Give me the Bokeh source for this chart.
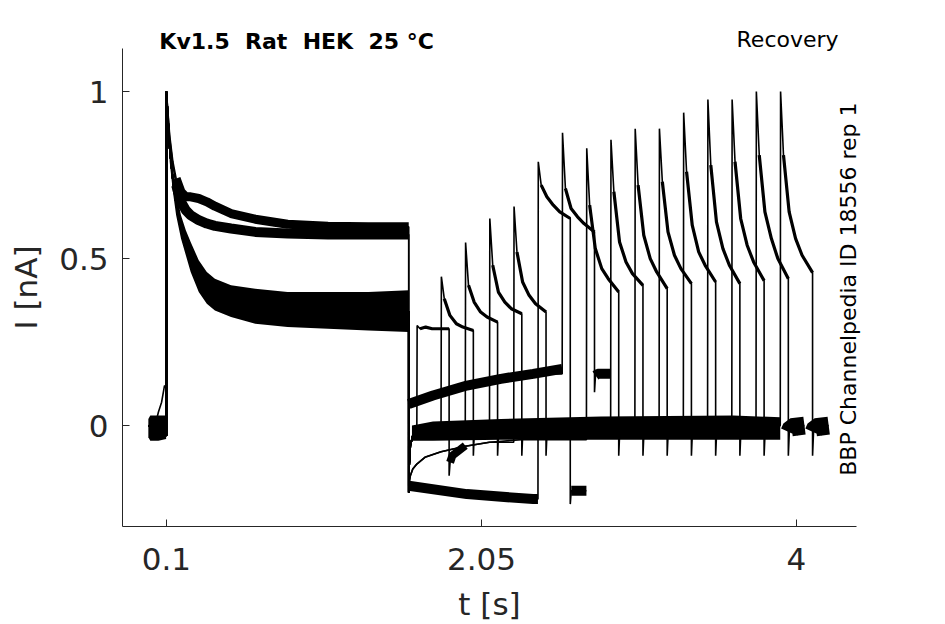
import math
import numpy as np
from bokeh.plotting import figure
from bokeh.models import Range1d, FixedTicker, Label
from bokeh.embed import file_html
from bokeh.resources import INLINE

# ---------------- axis ticks ----------------
x_ticks = [0.1, 2.05, 4.0]
x_tick_text = ["0.1", "2.05", "4"]
y_ticks = [0.0, 0.5, 1.0]
y_tick_text = ["0", "0.5", "1"]
x_axis_span = (-0.172, 4.372)
y_axis_span = (-0.302, 1.129)

# ---------------- protocol timing (s) ----------------
p2_on = [1.65, 1.80, 1.95, 2.10, 2.25, 2.40, 2.55, 2.70,
         2.85, 3.00, 3.15, 3.30, 3.45, 3.60, 3.75, 3.90]
p2_len = 0.2

# ---------------- holding before first pulse ----------------
pre_t = [-0.01, 0.1]
pre_v = [0.0, -0.03]
ramp_t = [-0.01, 0.03, 0.05, 0.07, 0.088, 0.095, 0.1]
ramp_v = [0.0, 0.0, 0.04, 0.07, 0.12, 0.115, 0.11]
preband_t = [-0.012, 0.0, 0.05, 0.098]
preband_hi = [0.02, 0.03, 0.03, 0.03]
preband_lo = [-0.035, -0.045, -0.045, -0.04]

# ---------------- first (conditioning) pulse ----------------
p1_t = [0.1, 0.12, 0.14, 0.16, 0.19, 0.22, 0.25, 0.3, 0.35, 0.4,
        0.5, 0.65, 0.85, 1.1, 1.35, 1.6]
p1_fast = [1.0, 0.83, 0.735, 0.665, 0.595, 0.548, 0.505, 0.448, 0.412, 0.392,
           0.372, 0.357, 0.347, 0.345, 0.342, 0.342]
p1_fast_hi = [1.0, 0.87, 0.77, 0.70, 0.63, 0.585, 0.55, 0.495, 0.46, 0.44,
              0.42, 0.41, 0.40, 0.40, 0.40, 0.405]
p1_fast_lo = [1.0, 0.79, 0.70, 0.63, 0.56, 0.51, 0.46, 0.40, 0.365, 0.345,
              0.325, 0.305, 0.295, 0.29, 0.285, 0.28]
p1_slow_a = [1.0, 0.86, 0.78, 0.72, 0.67, 0.645, 0.63, 0.615, 0.605, 0.598,
             0.59, 0.58, 0.575, 0.572, 0.572, 0.572]
p1_slow_b = [1.0, 0.87, 0.79, 0.74, 0.70, 0.685, 0.685, 0.68, 0.67, 0.657,
             0.635, 0.618, 0.603, 0.597, 0.595, 0.595]

# ---------------- recovery interval (tail currents) ----------------
tail_t = [1.6, 1.603, 1.61, 1.625, 1.65, 1.7, 1.8, 1.95, 2.1, 2.3]
tail_fast = [-0.20, -0.12, -0.06, -0.03, -0.015, -0.01, -0.005, 0.0, 0.0, 0.0]
tail_slow = [-0.20, -0.17, -0.15, -0.13, -0.115, -0.095, -0.078, -0.062, -0.05, -0.042]
tailF_t = [1.6, 1.96, 2.37, 2.4]
tailF_v = [-0.18, -0.205, -0.22, -0.22]
tailG_t = [1.6, 1.75, 1.96, 2.17, 2.37, 2.55]
tailG_v = [0.065, 0.09, 0.12, 0.14, 0.155, 0.17]
zero_t = [1.62, 1.75, 2.17, 2.79, 3.61, 3.9]
zero_hi = [0.0, 0.012, 0.02, 0.027, 0.03, 0.025]
zero_lo = [-0.045, -0.045, -0.042, -0.042, -0.042, -0.042]

# ---------------- second (test) pulse ----------------
p2_dt = [0.002, 0.02, 0.055, 0.095, 0.135, 0.2]
p2_vals = [
    [0.30, 0.29, 0.295, 0.29, 0.29, 0.29],
    [0.446, 0.38, 0.33, 0.305, 0.295, 0.285],
    [0.548, 0.42, 0.37, 0.34, 0.325, 0.31],
    [0.62, 0.48, 0.40, 0.37, 0.35, 0.335],
    [0.656, 0.52, 0.43, 0.39, 0.365, 0.34],
    [0.79, 0.72, 0.685, 0.66, 0.64, 0.62],
    [0.877, 0.71, 0.65, 0.625, 0.605, 0.58],
    [0.83, 0.66, 0.53, 0.47, 0.44, 0.40],
    [0.856, 0.70, 0.55, 0.49, 0.455, 0.42],
    [0.889, 0.72, 0.57, 0.50, 0.46, 0.41],
    [0.889, 0.73, 0.58, 0.51, 0.47, 0.425],
    [0.937, 0.76, 0.60, 0.52, 0.48, 0.43],
    [0.976, 0.78, 0.61, 0.53, 0.48, 0.425],
    [0.976, 0.79, 0.62, 0.54, 0.49, 0.434],
    [1.0, 0.81, 0.64, 0.56, 0.50, 0.44],
    [1.0, 0.81, 0.64, 0.56, 0.51, 0.458],
]

# ---------------- after the second pulse ----------------
post_dt = [0.0, 0.006, 0.02, 0.1]
post_normal = [-0.09, -0.02, -0.005, 0.0]
post_A = [-0.15, -0.11, -0.09, -0.06]
post_F = [-0.235, -0.195, -0.195, -0.195]
post_G = [0.10, 0.15, 0.155, 0.155]

slow_tail = [4, 7]       # sweeps with slowly decaying tail


def build_sweep(k):
    xs, ys = [], []
    if k == 0:
        xs += ramp_t; ys += ramp_v
    else:
        xs += pre_t; ys += pre_v
    if k == 5:
        p1 = p1_slow_a
    elif k == 6:
        p1 = p1_slow_b
    else:
        p1 = p1_fast
    xs += p1_t; ys += p1
    ts = p2_on[k]
    if k == 5:
        tt, tv = tailF_t, tailF_v
    elif k == 6:
        tt, tv = tailG_t, tailG_v
    elif k in slow_tail:
        tt, tv = tail_t, tail_slow
    else:
        tt, tv = tail_t, tail_fast
    last = tv[0]
    for a, b in zip(tt, tv):
        if a < ts:
            xs.append(a); ys.append(b); last = b
    xs.append(ts); ys.append(last)
    xs += [ts + d for d in p2_dt]; ys += p2_vals[k]
    te = ts + p2_len
    if k == 0:
        pv = post_A
    elif k == 5:
        pv = post_F
    elif k == 6:
        pv = post_G
    else:
        pv = post_normal
    xs += [te + d for d in post_dt]; ys += pv
    return xs, ys


# frame fills the canvas; axes are pinned where the reference draws them
W, H = 940, 624
FL, FR, FT, FB = 122, 856, 48, 526          # axis box in canvas pixels
sx = (x_axis_span[1] - x_axis_span[0]) / (FR - FL)
sy = (y_axis_span[1] - y_axis_span[0]) / (FB - FT)
xr = Range1d(x_axis_span[0] - FL * sx, x_axis_span[1] + (W - FR) * sx)
yr = Range1d(y_axis_span[0] - (H - FB) * sy, y_axis_span[1] + FT * sy)

p = figure(width=W, height=H, output_backend="svg", toolbar_location=None,
           x_range=xr, y_range=yr, min_border=0,
           background_fill_color="white", border_fill_color="white")
p.outline_line_color = None
p.grid.visible = False

INK = "black"

# noise envelopes
p.varea(x=preband_t, y1=preband_lo, y2=preband_hi, fill_color=INK)
p.varea(x=p1_t, y1=p1_fast_lo, y2=p1_fast_hi, fill_color=INK)
p.varea(x=zero_t, y1=zero_lo, y2=zero_hi, fill_color=INK)

for k in range(len(p2_on)):
    xs, ys = build_sweep(k)
    p.line(xs, ys, line_color=INK, line_width=1.6)
    ts = p2_on[k]
    p.line([ts + d for d in p2_dt[1:]], p2_vals[k][1:], line_color=INK, line_width=3.2)

# thick noisy traces
p.line(p1_t[3:], p1_slow_a[3:], line_color=INK, line_width=10)
p.line(p1_t[3:], p1_slow_b[3:], line_color=INK, line_width=9)
p.line(tailF_t, tailF_v, line_color=INK, line_width=10)
p.line(tailG_t, tailG_v, line_color=INK, line_width=10)
p.line([p2_on[5] + p2_len + d for d in post_dt[1:]], post_F[1:], line_color=INK, line_width=10)
p.line([p2_on[6] + p2_len + d for d in post_dt[1:]], post_G[1:], line_color=INK, line_width=10)
p.line([p2_on[0] + p2_len + d for d in post_dt[1:]], post_A[1:], line_color=INK, line_width=8)
for k in (14, 15):
    te = p2_on[k] + p2_len
    p.line([te + d for d in post_dt[1:]], post_normal[1:], line_color=INK, line_width=18)

# axes
GREY = "#262626"
for ax in (p.xaxis, p.yaxis):
    ax.axis_line_color = GREY
    ax.major_tick_line_color = GREY
    ax.minor_tick_line_color = None
    ax.major_tick_in = 7
    ax.major_tick_out = 0
    ax.major_label_text_font = "DejaVu Sans"
    ax.major_label_text_font_size = "31px"
    ax.major_label_text_color = GREY
    ax.axis_label_text_font = "DejaVu Sans"
    ax.axis_label_text_font_size = "31px"
    ax.axis_label_text_font_style = "normal"
    ax.axis_label_text_color = GREY

p.xaxis.fixed_location = y_axis_span[0]
p.xaxis.bounds = x_axis_span
p.yaxis.fixed_location = x_axis_span[0]
p.yaxis.bounds = y_axis_span
p.xaxis.ticker = FixedTicker(ticks=x_ticks)
p.xaxis.major_label_overrides = dict(zip(x_ticks, x_tick_text))
p.yaxis.ticker = FixedTicker(ticks=y_ticks)
p.yaxis.major_label_overrides = dict(zip(y_ticks, y_tick_text))
p.xaxis.axis_label = "t [s]"
p.yaxis.axis_label = "I [nA]"
p.xaxis.major_label_standoff = 21
p.xaxis.axis_label_standoff = 13
p.yaxis.major_label_standoff = 14
p.yaxis.axis_label_standoff = 12

NB = "\u00a0"
title_text = "Kv1.5 " + NB + "Rat " + NB + "HEK " + NB + "25 °C"
p.add_layout(Label(x=0.056, y=1.151, text=title_text,
                   text_font="DejaVu Sans", text_font_style="bold",
                   text_font_size="22px", text_baseline="alphabetic",
                   text_align="left", text_color="black"))
p.add_layout(Label(x=4.261, y=1.155, text="Recovery",
                   text_font="DejaVu Sans", text_font_size="22px",
                   text_baseline="alphabetic", text_align="right",
                   text_color="black"))
p.add_layout(Label(x=4.3225, y=-0.15, text="BBP Channelpedia ID 18556 rep 1",
                   angle=math.pi / 2, text_font="DejaVu Sans",
                   text_font_size="22px", text_baseline="alphabetic",
                   text_align="left", text_color="black"))

open("out.html", "w").write(file_html(p, INLINE))
